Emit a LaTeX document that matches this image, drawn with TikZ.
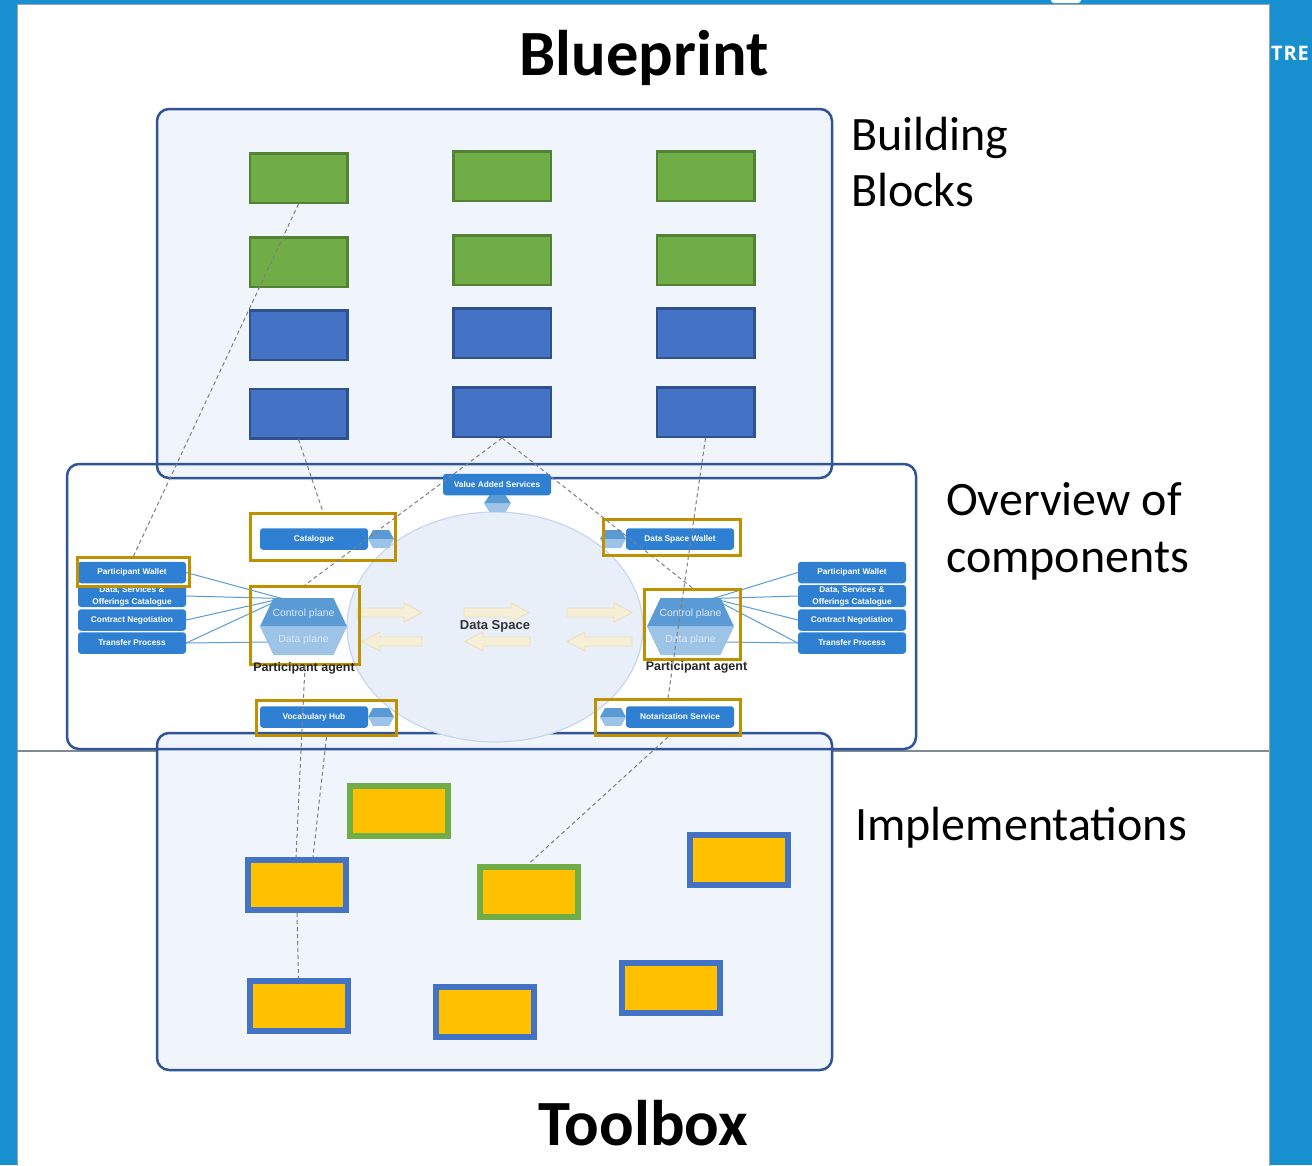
\documentclass[tikz,border=0pt]{standalone}
\usepackage{fontspec}
\setmainfont{Carlito}
\newfontfamily\arialf{Liberation Sans}
\newfontfamily\opensf{Open Sans}
\usetikzlibrary{shapes.geometric}

\definecolor{bgblue}{HTML}{1890D0}
\definecolor{panelgray}{HTML}{A0A4A8}
\definecolor{sepgray}{HTML}{7F8A94}
\definecolor{boxline}{HTML}{2F5597}
\definecolor{boxfill}{HTML}{F0F4FB}
\definecolor{bbgreen}{HTML}{70AD47}
\definecolor{bbgreenline}{HTML}{548235}
\definecolor{bbblue}{HTML}{4472C4}
\definecolor{bbblueline}{HTML}{2F528F}
\definecolor{implyellow}{HTML}{FFC000}
\definecolor{compblue}{HTML}{2F80D3}
\definecolor{hexdark}{HTML}{5B9BD5}
\definecolor{hexlight}{HTML}{9DC3E6}
\definecolor{hextext}{HTML}{DCE9F7}
\definecolor{goldline}{HTML}{BF9000}
\definecolor{dsfill}{HTML}{E8EFF9}
\definecolor{dsline}{HTML}{C8D7EE}
\definecolor{arrfill}{HTML}{F6EFD8}
\definecolor{arrline}{HTML}{EBDFB8}
\definecolor{dashgray}{HTML}{7F7F7F}

\newcommand{\hexglyph}[5]{%
  \begin{scope}[shift={(#1,#2)}]
    \fill[hexdark] (-#3,0) -- (-#4,-#5) -- (#4,-#5) -- (#3,0) -- cycle;
    \fill[hexlight] (-#3,0) -- (-#4,#5) -- (#4,#5) -- (#3,0) -- cycle;
  \end{scope}}
\newcommand{\rblockarrow}[3]{%
  \filldraw[fill=arrfill, draw=arrline, line width=0.8pt]
    (#1,#3-4.5) -- (#2-18,#3-4.5) -- (#2-18,#3-9.5) -- (#2,#3) --
    (#2-18,#3+9.5) -- (#2-18,#3+4.5) -- (#1,#3+4.5) -- cycle;}
\newcommand{\lblockarrow}[3]{%
  \filldraw[fill=arrfill, draw=arrline, line width=0.8pt]
    (#2,#3-4.5) -- (#1+18,#3-4.5) -- (#1+18,#3-9.5) -- (#1,#3) --
    (#1+18,#3+9.5) -- (#1+18,#3+4.5) -- (#2,#3+4.5) -- cycle;}

\begin{document}
\begin{tikzpicture}[x=1pt,y=-1pt,
  bigbox/.style={draw=boxline, line width=2.5pt, rounded corners=12pt, inner sep=0},
  bb/.style={draw, line width=2.5pt, minimum width=97.5pt, minimum height=49.5pt, inner sep=0},
  bbg/.style={bb, fill=bbgreen, draw=bbgreenline},
  bbb/.style={bb, fill=bbblue, draw=bbblueline},
  impl/.style={draw, line width=6pt, fill=implyellow, minimum width=98pt, minimum height=50pt, inner sep=0},
  implg/.style={impl, draw=bbgreen},
  implb/.style={impl, draw=bbblue},
  comp/.style={fill=compblue, rounded corners=3pt, minimum width=108pt, minimum height=21.5pt, inner sep=0,
    text=white, font=\arialf\bfseries\fontsize{8.3}{9}\selectfont},
  goldbox/.style={draw=goldline, line width=3pt, inner sep=0},
  conn/.style={draw=dashgray, line width=1pt, dash pattern=on 4pt off 3pt},
  hexline/.style={draw=hexdark, line width=1pt},
  hexlabel/.style={text=hextext, font=\arialf\fontsize{10.4}{12}\selectfont, inner sep=0},
  agentlabel/.style={text=black!85, font=\arialf\bfseries\fontsize{12.5}{14}\selectfont, inner sep=0},
  biglabel/.style={anchor=base west, font=\fontsize{48}{56}\selectfont, inner sep=0},
  title/.style={anchor=base, font=\bfseries\fontsize{64.5}{70}\selectfont, inner sep=0}
]
\useasboundingbox (0,0) rectangle (1312,1165);
\clip (0,0) rectangle (1312,1165);

% background frame
\fill[bgblue] (0,0) rectangle (1312,1165);
\fill[white, rounded corners=3pt] (1051,-6) rectangle (1081,3);
\filldraw[fill=white, draw=panelgray, line width=1pt] (17,4) rectangle (1269,1172);
\node[anchor=west, text=white, font=\opensf\bfseries\fontsize{20}{22}\selectfont, inner sep=0] (tre) at (1271,53) {T\kern0.8pt R\kern0.8pt E};
\draw[sepgray, line width=2pt] (17,750.5) -- (1269,750.5);

% titles and labels
\node[title] (blueprint) at (644,75) {Blueprint};
\node[title] (toolbox) at (643,1145) {Toolbox};
\node[biglabel] (bl1) at (851,150) {Building};
\node[biglabel] (bl2) at (851,206) {Blocks};
\node[biglabel] (ov1) at (946,515) {Overview of};
\node[biglabel] (ov2) at (946,572) {components};
\node[biglabel] (imp) at (855,840) {Implementations};

% big boxes (top and bottom, filled)
\node[bigbox, fill=boxfill, minimum width=675pt, minimum height=369pt] (topbox) at (494.5,293.5) {};
\node[bigbox, fill=boxfill, minimum width=675pt, minimum height=337pt] (botbox) at (494.5,901.5) {};

% building blocks
\node[bbg] (b11) at (298.5,178) {};
\node[bbg] (b12) at (502,176) {};
\node[bbg] (b13) at (705.5,176) {};
\node[bbg] (b21) at (298.5,262) {};
\node[bbg] (b22) at (502,260) {};
\node[bbg] (b23) at (705.5,260) {};
\node[bbb] (b31) at (298.5,335) {};
\node[bbb] (b32) at (502,333) {};
\node[bbb] (b33) at (705.5,333) {};
\node[bbb] (b41) at (298.5,413.5) {};
\node[bbb] (b42) at (502,412) {};
\node[bbb] (b43) at (705.5,412) {};

% implementations
\node[implg] (i1) at (398.5,810.5) {};
\node[implb] (i2) at (297,885) {};
\node[implg] (i3) at (529,891.5) {};
\node[implb] (i4) at (739,860) {};
\node[implb] (i5) at (298.5,1006) {};
\node[implb] (i6) at (485,1011.5) {};
\node[implb] (i7) at (671,988) {};

% middle box (outline only)
\node[bigbox, minimum width=849pt, minimum height=285pt] (midbox) at (491.5,606.5) {};

% data space
\node[ellipse, fill=dsfill, draw=dsline, line width=1.2pt, minimum width=296pt, minimum height=230pt, inner sep=0] (ds) at (495,627) {};
\rblockarrow{357}{422}{612.5}
\rblockarrow{464}{529}{612.5}
\rblockarrow{567}{632}{612.5}
\lblockarrow{362}{422}{641.5}
\lblockarrow{465}{530}{641.5}
\lblockarrow{567}{632}{641.5}
\node[text=black!80, font=\arialf\bfseries\fontsize{13}{15}\selectfont, inner sep=0] (dslabel) at (495,626.5) {Data Space};

% components around
\node[comp] (vas) at (497,484.5) {Value Added Services};
\hexglyph{497.5}{503.5}{13.5}{8}{8.5}
\node[comp] (cat) at (314,539) {Catalogue};
\hexglyph{381}{539}{13}{8}{9}
\node[comp] (voc) at (314,717) {Vocabulary Hub};
\hexglyph{381}{717}{13}{8}{9}
\node[comp] (dsw) at (680,539) {Data Space Wallet};
\hexglyph{613}{539}{13}{8}{9}
\node[comp] (nots) at (680,717) {Notarization Service};
\hexglyph{613}{717}{13}{8}{9}

% left participant side
\node[comp, minimum height=22pt, align=center, font=\arialf\bfseries\fontsize{8.3}{12}\selectfont] (ldsoc) at (132,596) {Data, Services \&\\Offerings Catalogue};
\node[comp] (lpw) at (132,572.5) {Participant Wallet};
\node[comp] (lcn) at (132,620) {Contract Negotiation};
\node[comp] (ltp) at (132,643) {Transfer Process};
\coordinate (lconv) at (282,598.5);
\coordinate (ldp) at (273,642);
\draw[hexline] (lpw.east) -- (lconv);
\draw[hexline] (ldsoc.east) -- (lconv);
\draw[hexline] (lcn.east) -- (lconv);
\draw[hexline] (ltp.east) -- (lconv);
\draw[hexline] (ltp.east) -- (ldp);
\hexglyph{303.5}{626.5}{43.5}{30}{28.5}
\node[hexlabel] (lcp) at (303.5,613.5) {Control plane};
\node[hexlabel] (ldpl) at (303.5,639.5) {Data plane};

% right participant side
\node[comp, minimum height=22pt, align=center, font=\arialf\bfseries\fontsize{8.3}{12}\selectfont] (rdsoc) at (852,596) {Data, Services \&\\Offerings Catalogue};
\node[comp] (rpw) at (852,572.5) {Participant Wallet};
\node[comp] (rcn) at (852,620) {Contract Negotiation};
\node[comp] (rtp) at (852,643) {Transfer Process};
\coordinate (rconv) at (713,598.5);
\coordinate (rdp) at (725,642);
\draw[hexline] (rpw.west) -- (rconv);
\draw[hexline] (rdsoc.west) -- (rconv);
\draw[hexline] (rcn.west) -- (rconv);
\draw[hexline] (rtp.west) -- (rconv);
\draw[hexline] (rtp.west) -- (rdp);
\hexglyph{690.5}{626.5}{43.5}{30}{28.5}
\node[hexlabel] (rcp) at (690.5,613.5) {Control plane};
\node[hexlabel] (rdpl) at (690.5,639.5) {Data plane};

% gold highlight boxes
\node[goldbox, minimum width=112pt, minimum height=29pt] (glpw) at (133.5,572) {};
\node[goldbox, minimum width=145pt, minimum height=47pt] (gcat) at (323,537) {};
\node[goldbox, minimum width=109pt, minimum height=78pt] (glpa) at (305,625.5) {};
\node[goldbox, minimum width=140pt, minimum height=35pt] (gvoc) at (326.5,718) {};
\node[goldbox, minimum width=137pt, minimum height=36pt] (gdsw) at (672,537.5) {};
\node[goldbox, minimum width=96pt, minimum height=70pt] (grpa) at (692.5,624.5) {};
\node[goldbox, minimum width=145pt, minimum height=36pt] (gnot) at (668,717.5) {};

\node[agentlabel] (lpa) at (304,668) {Participant agent};
\node[agentlabel] (rpa) at (696.5,667.5) {Participant agent};

% dashed mapping connectors
\draw[conn] (b11.south) -- (glpw.north);
\draw[conn] (b41.south) -- (gcat.north);
\draw[conn] (b42.south) -- (glpa.north);
\draw[conn] (b42.south) -- (grpa.north);
\draw[conn] (b43.south) -- (gnot.north);
\draw[conn] (gnot.south) -- (i3.north);
\draw[conn] (glpa.south) -- ([xshift=-1pt]i2.north);
\draw[conn] (gvoc.south) -- ([xshift=16pt]i2.north);
\draw[conn] (i2.south) -- (i5.north);
\end{tikzpicture}
\end{document}
